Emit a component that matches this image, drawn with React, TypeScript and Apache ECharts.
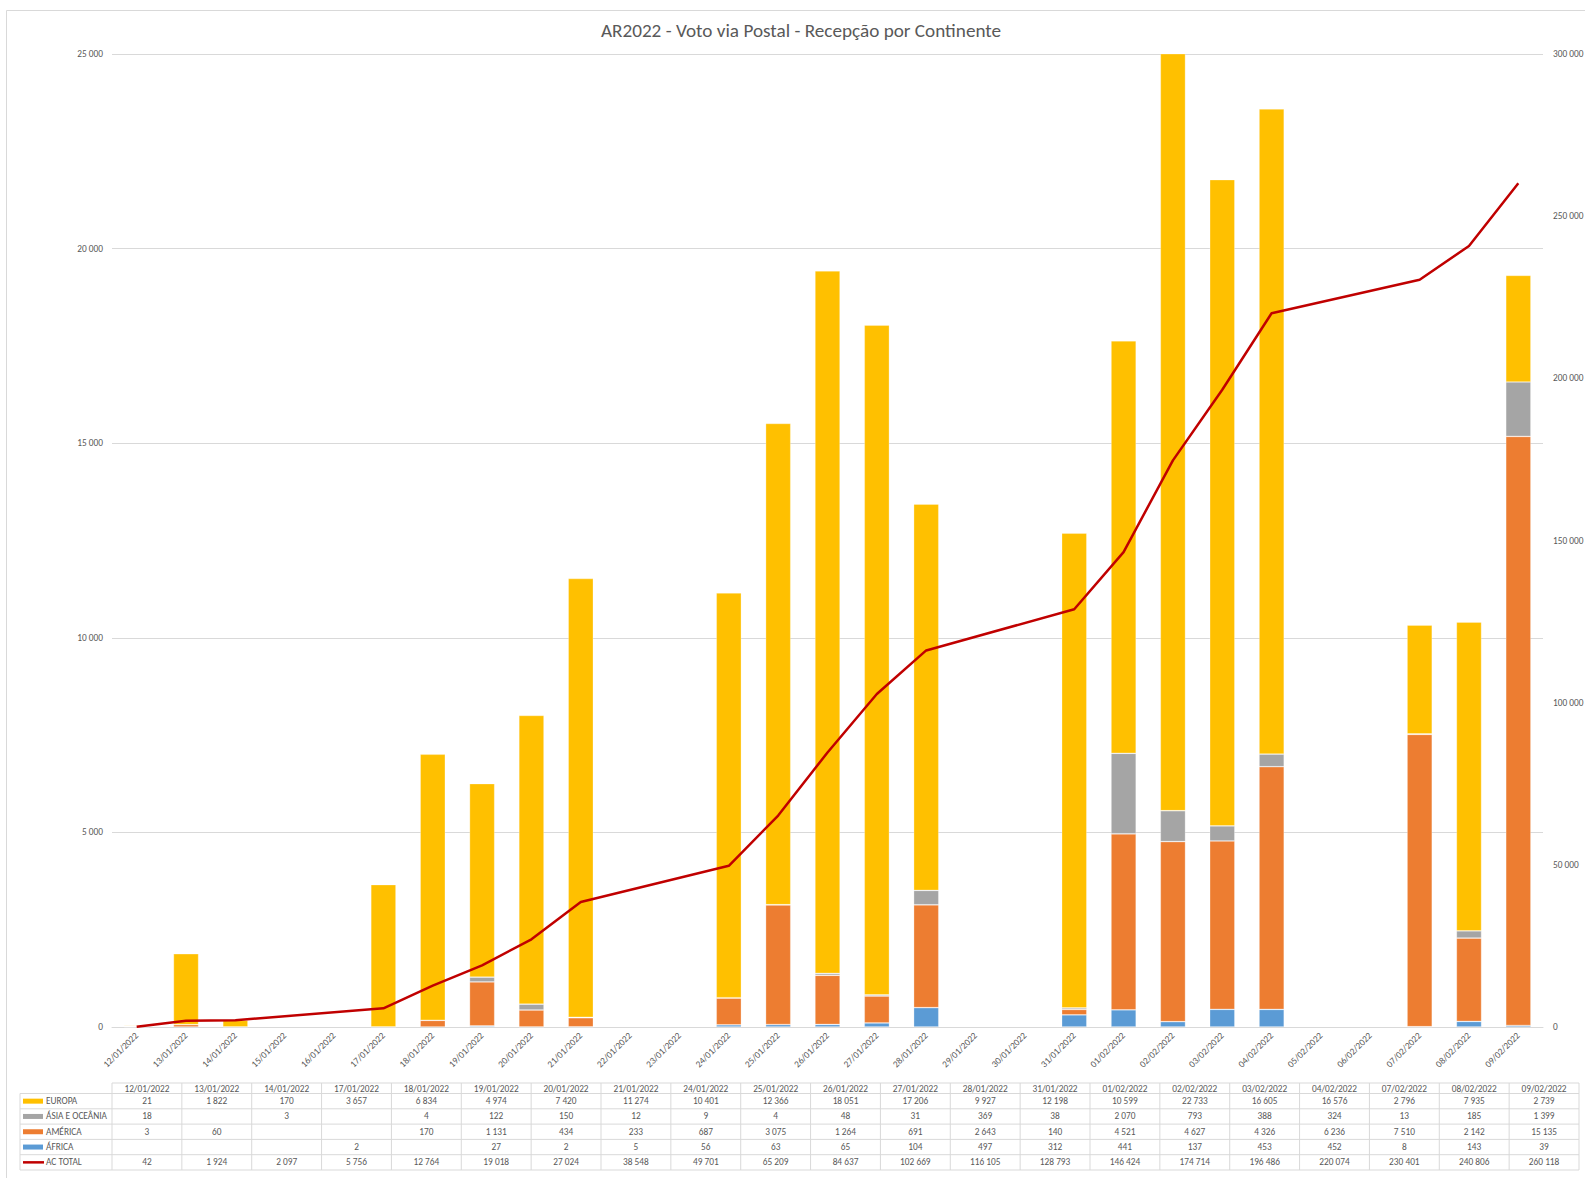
import React, { useEffect, useRef } from 'react';
import * as echarts from 'echarts';

// Every day on the chart's date axis (tick labels)
const axisDays = [
  '12/01/2022', '13/01/2022', '14/01/2022', '15/01/2022', '16/01/2022', '17/01/2022', '18/01/2022',
  '19/01/2022', '20/01/2022', '21/01/2022', '22/01/2022', '23/01/2022', '24/01/2022', '25/01/2022',
  '26/01/2022', '27/01/2022', '28/01/2022', '29/01/2022', '30/01/2022', '31/01/2022', '01/02/2022',
  '02/02/2022', '03/02/2022', '04/02/2022', '05/02/2022', '06/02/2022', '07/02/2022', '08/02/2022',
  '09/02/2022',
];

// Dates that have data (table columns)
const tableDates = [
  '12/01/2022', '13/01/2022', '14/01/2022', '17/01/2022', '18/01/2022', '19/01/2022', '20/01/2022',
  '21/01/2022', '24/01/2022', '25/01/2022', '26/01/2022', '27/01/2022', '28/01/2022', '31/01/2022',
  '01/02/2022', '02/02/2022', '03/02/2022', '04/02/2022', '07/02/2022', '08/02/2022', '09/02/2022',
];

const europa = [21, 1822, 170, 3657, 6834, 4974, 7420, 11274, 10401, 12366, 18051, 17206, 9927, 12198, 10599, 22733, 16605, 16576, 2796, 7935, 2739];
const asiaOceania = [18, null, 3, null, 4, 122, 150, 12, 9, 4, 48, 31, 369, 38, 2070, 793, 388, 324, 13, 185, 1399];
const america = [3, 60, null, null, 170, 1131, 434, 233, 687, 3075, 1264, 691, 2643, 140, 4521, 4627, 4326, 6236, 7510, 2142, 15135];
const africa = [null, null, null, 2, null, 27, 2, 5, 56, 63, 65, 104, 497, 312, 441, 137, 453, 452, 8, 143, 39];
const acTotal = [42, 1924, 2097, 5756, 12764, 19018, 27024, 38548, 49701, 65209, 84637, 102669, 116105, 128793, 146424, 174714, 196486, 220074, 230401, 240806, 260118];

const COLORS = {
  europa: '#FFC000',
  asia: '#A5A5A5',
  america: '#ED7D31',
  africa: '#5B9BD5',
  total: '#C00000',
};

const FONT = 'Calibri, Carlito, "Open Sans", sans-serif';
const TEXT = '#595959';
const GRID_LINE = '#D9D9D9';
const SMALL = 9.33;

const fmt = (v: number | null | undefined) =>
  v === null || v === undefined ? '' : String(v).replace(/\B(?=(\d{3})+(?!\d))/g, ' ');

const onAxis = (vals: (number | null)[]) =>
  axisDays.map((d) => {
    const i = tableDates.indexOf(d);
    return i < 0 ? null : vals[i];
  });

function buildTable() {
  const TX = 112;
  const TR = 1579;
  const LX = 20;
  const colW = (TR - TX) / tableDates.length;
  const headerTop = 1083;
  const headerBottom = 1093.5;
  const rowH = 15.3;
  const rows = [
    { name: 'EUROPA', color: COLORS.europa, values: europa, kind: 'bar' },
    { name: 'ÁSIA E OCEÂNIA', color: COLORS.asia, values: asiaOceania, kind: 'bar' },
    { name: 'AMÉRICA', color: COLORS.america, values: america, kind: 'bar' },
    { name: 'ÁFRICA', color: COLORS.africa, values: africa, kind: 'bar' },
    { name: 'AC TOTAL', color: COLORS.total, values: acTotal, kind: 'line' },
  ];
  const bottom = headerBottom + rows.length * rowH;
  const els: any[] = [];
  const line = (x1: number, y1: number, x2: number, y2: number) => ({
    type: 'line',
    shape: { x1, y1, x2, y2 },
    style: { stroke: GRID_LINE, lineWidth: 1 },
    silent: true,
  });
  // horizontal lines
  els.push(line(TX, headerTop, TR, headerTop));
  for (let k = 0; k <= rows.length; k++) {
    const y = headerBottom + k * rowH;
    els.push(line(LX, y, TR, y));
  }
  // vertical lines
  els.push(line(LX, headerBottom, LX, bottom));
  for (let i = 0; i <= tableDates.length; i++) {
    const x = TX + i * colW;
    els.push(line(x, headerTop, x, bottom));
  }
  // header texts
  tableDates.forEach((d, i) => {
    els.push({
      type: 'text',
      x: TX + (i + 0.5) * colW,
      y: (headerTop + headerBottom) / 2 + 0.5,
      style: { text: d, fill: TEXT, fontSize: SMALL, fontFamily: FONT, align: 'center', verticalAlign: 'middle' },
      silent: true,
    });
  });
  rows.forEach((r, k) => {
    const cy = headerBottom + (k + 0.5) * rowH;
    if (r.kind === 'bar') {
      els.push({
        type: 'rect',
        shape: { x: 23, y: cy - 2.5, width: 20, height: 5 },
        style: { fill: r.color },
        silent: true,
      });
    } else {
      els.push({
        type: 'line',
        shape: { x1: 23, y1: cy, x2: 44, y2: cy },
        style: { stroke: r.color, lineWidth: 2.5 },
        silent: true,
      });
    }
    els.push({
      type: 'text',
      x: 46,
      y: cy,
      style: { text: r.name, fill: TEXT, fontSize: SMALL, fontFamily: FONT, align: 'left', verticalAlign: 'middle' },
      silent: true,
    });
    r.values.forEach((v, i) => {
      if (v === null || v === undefined) return;
      els.push({
        type: 'text',
        x: TX + (i + 0.5) * colW,
        y: cy,
        style: { text: fmt(v), fill: TEXT, fontSize: SMALL, fontFamily: FONT, align: 'center', verticalAlign: 'middle' },
        silent: true,
      });
    });
  });
  return els;
}

export default function App() {
  const ref = useRef<HTMLDivElement>(null);

  useEffect(() => {
    if (!ref.current) return;
    const chart = echarts.init(ref.current, null, { renderer: 'svg' });

    const barSeries = (name: string, vals: (number | null)[], color: string) => ({
      name,
      type: 'bar',
      stack: 'total',
      barWidth: '51%',
      data: onAxis(vals),
      itemStyle: { color, borderColor: 'rgba(255,255,255,0.4)', borderWidth: 0.7 },
      clip: true,
    });

    const option: any = {
      animation: false,
      backgroundColor: '#ffffff',
      textStyle: { fontFamily: FONT },
      title: {
        text: 'AR2022 - Voto via Postal - Recepção por Continente',
        left: 796,
        top: 16,
        textAlign: 'center',
        textStyle: { fontSize: 19.2, fontWeight: 'normal', color: TEXT, fontFamily: FONT },
      },
      legend: { show: false },
      grid: { left: 112, right: 42, top: 54, bottom: 151, outerBoundsMode: 'none' },
      xAxis: {
        type: 'category',
        data: axisDays,
        axisLine: { lineStyle: { color: GRID_LINE } },
        axisTick: { show: false },
        axisLabel: { interval: 0, rotate: 45, color: TEXT, fontSize: SMALL, fontFamily: FONT, margin: 7 },
      },
      yAxis: [
        {
          type: 'value',
          min: 0,
          max: 25000,
          interval: 5000,
          axisLine: { show: false },
          axisTick: { show: false },
          splitLine: { lineStyle: { color: GRID_LINE } },
          axisLabel: { color: TEXT, fontSize: SMALL, fontFamily: FONT, margin: 9, formatter: (v: number) => fmt(v) },
        },
        {
          type: 'value',
          min: 0,
          max: 300000,
          interval: 50000,
          position: 'right',
          axisLine: { show: false },
          axisTick: { show: false },
          splitLine: { show: false },
          axisLabel: { color: TEXT, fontSize: SMALL, fontFamily: FONT, margin: 10, formatter: (v: number) => fmt(v) },
        },
      ],
      series: [
        barSeries('ÁFRICA', africa, COLORS.africa),
        barSeries('AMÉRICA', america, COLORS.america),
        barSeries('ÁSIA E OCEÂNIA', asiaOceania, COLORS.asia),
        barSeries('EUROPA', europa, COLORS.europa),
        {
          name: 'AC TOTAL',
          type: 'line',
          yAxisIndex: 1,
          data: onAxis(acTotal),
          connectNulls: true,
          showSymbol: false,
          symbol: 'none',
          lineStyle: { color: COLORS.total, width: 2.5 },
          itemStyle: { color: COLORS.total },
          z: 5,
        },
      ],
      graphic: [
        {
          type: 'rect',
          shape: { x: 6.5, y: 10.5, width: 1600, height: 1200 },
          style: { fill: 'none', stroke: GRID_LINE, lineWidth: 1 },
          silent: true,
          z: -1,
        },
        ...buildTable(),
      ],
    };

    chart.setOption(option);
    return () => chart.dispose();
  }, []);

  return (
    <div
      ref={ref}
      style={{ position: 'fixed', left: 0, top: 0, width: 1585, height: 1178, background: '#ffffff' }}
    />
  );
}
